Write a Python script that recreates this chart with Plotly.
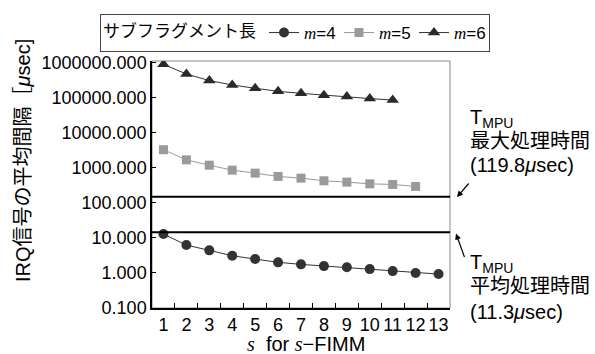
import plotly.graph_objects as go

# ---- data ----
s_values = [str(i) for i in range(1, 14)]
m4_values = [12.9, 6.25, 4.42, 3.10, 2.49, 2.01, 1.76, 1.57, 1.45, 1.29, 1.13, 1.00, 0.93]
m5_values = [3300, 1690, 1190, 860, 707, 569, 509, 427, 392, 350, 336, 295]
m6_values = [900000, 478000, 310000, 232000, 187000, 153000, 134000, 118000, 108000, 95000, 86000]
series_names = ["<i style='font-family:Liberation Serif'>m</i>=4",
                "<i style='font-family:Liberation Serif'>m</i>=5",
                "<i style='font-family:Liberation Serif'>m</i>=6"]
y_tickvals = [0.1, 1, 10, 100, 1000, 10000, 100000, 1000000]
y_ticktext = ["0.100", "1.000", "10.000", "100.000", "1000.000", "10000.000",
              "100000.000", "1000000.000"]
tmpu_max_line = 150    # drawn level of T_MPU max line (labelled 119.8 usec)
tmpu_avg_line = 14.5   # drawn level of T_MPU avg line (labelled 11.3 usec)

FONT = "Liberation Sans, Arial, Noto Sans CJK JP, sans-serif"
DARK = "#333333"
GRAY = "#9a9a9a"

fig = go.Figure()
fig.add_trace(go.Scatter(x=s_values[:len(m4_values)], y=m4_values, name=series_names[0],
                         mode="lines+markers",
                         line=dict(color=DARK, width=1),
                         marker=dict(symbol="circle", size=10, color=DARK)))
fig.add_trace(go.Scatter(x=s_values[:len(m5_values)], y=m5_values, name=series_names[1],
                         mode="lines+markers",
                         line=dict(color=GRAY, width=1),
                         marker=dict(symbol="square", size=9, color=GRAY)))
fig.add_trace(go.Scatter(x=s_values[:len(m6_values)], y=m6_values, name=series_names[2],
                         mode="lines+markers",
                         line=dict(color=DARK, width=1),
                         marker=dict(symbol="triangle-up", size=11, color="#2a2a2a")))

for lvl in (tmpu_max_line, tmpu_avg_line):
    fig.add_hline(y=lvl, line=dict(color="black", width=2))

# gray frame (top/right)
fig.add_shape(type="rect", xref="paper", yref="paper", x0=0, x1=1, y0=0, y1=1,
              line=dict(color="#888888", width=1), layer="below")

L, R, T, B = 152, 145, 61, 46
W, H = 595, 354
pw, ph = W - L - R, H - T - B

def px(x):
    return (x - L) / pw

def py(y):
    return (H - B - y) / ph

ann = []
# axis titles
ann.append(dict(text="IRQ信号の平均間隔［<i>μ</i>sec]", textangle=-90,
                x=px(23), y=py(161), xref="paper", yref="paper",
                xanchor="center", yanchor="middle", showarrow=False,
                font=dict(size=20, color="black", family=FONT)))
ann.append(dict(text="<i style='font-family:Liberation Serif'>s</i>  for <i style='font-family:Liberation Serif'>s</i>−FIMM",
                x=px(306), y=py(344), xref="paper", yref="paper",
                xanchor="center", yanchor="middle", showarrow=False,
                font=dict(size=20, color="black", family=FONT)))
# right-side texts
right_lines = [
    ("T<sub>MPU</sub>", 118), ("最大処理時間", 141), ("(119.8<i>μ</i>sec)", 165),
    ("T<sub>MPU</sub>", 263), ("平均処理時間", 286), ("(11.3<i>μ</i>sec)", 312),
]
for txt, yy in right_lines:
    ann.append(dict(text=txt, x=px(468), y=py(yy), xref="paper", yref="paper",
                    xanchor="left", yanchor="middle", showarrow=False,
                    font=dict(size=20, color="black", family=FONT)))
# arrows
ann.append(dict(text="", x=px(457), y=py(197), xref="paper", yref="paper",
                ax=13, ay=-15, showarrow=True, arrowhead=2, arrowsize=1,
                arrowwidth=1.2, arrowcolor="black"))
ann.append(dict(text="", x=px(456), y=py(233.5), xref="paper", yref="paper",
                ax=9, ay=25, showarrow=True, arrowhead=2, arrowsize=1,
                arrowwidth=1.2, arrowcolor="black"))

fig.update_layout(
    width=W, height=H,
    margin=dict(l=L, r=R, t=T, b=B, pad=0, autoexpand=False),
    paper_bgcolor="white", plot_bgcolor="white",
    font=dict(family=FONT, color="black", size=18),
    showlegend=True,
    legend=dict(orientation="h", x=px(100), y=py(14), xanchor="left", yanchor="top",
                xref="paper", yref="paper",
                bordercolor="#444444", borderwidth=1, bgcolor="white",
                font=dict(size=17, family=FONT, color="black"),
                title=dict(text="サブフラグメント長", side="left",
                           font=dict(size=17, family=FONT, color="black")),
                itemwidth=30, tracegroupgap=0, entrywidth=30, entrywidthmode="pixels"),
    annotations=ann,
)
fig.update_xaxes(type="category", tickson="boundaries", ticks="inside", ticklen=5,
                 tickcolor="black", showline=True, linecolor="black", linewidth=1.5,
                 showgrid=False, zeroline=False, range=[-0.5, 12.5], tickangle=0,
                 tickfont=dict(size=18, family=FONT, color="black"))
fig.update_yaxes(type="log", range=[-1, 6.05], tickvals=y_tickvals, ticktext=y_ticktext,
                 ticks="inside", ticklen=4, tickcolor="black", showline=True,
                 linecolor="black", linewidth=1.5, showgrid=False, zeroline=False,
                 tickfont=dict(size=18, family=FONT, color="black"))

fig.write_html("out.html", config={"displayModeBar": False},
               post_script="document.body.style.margin='0';document.body.style.padding='0';")
